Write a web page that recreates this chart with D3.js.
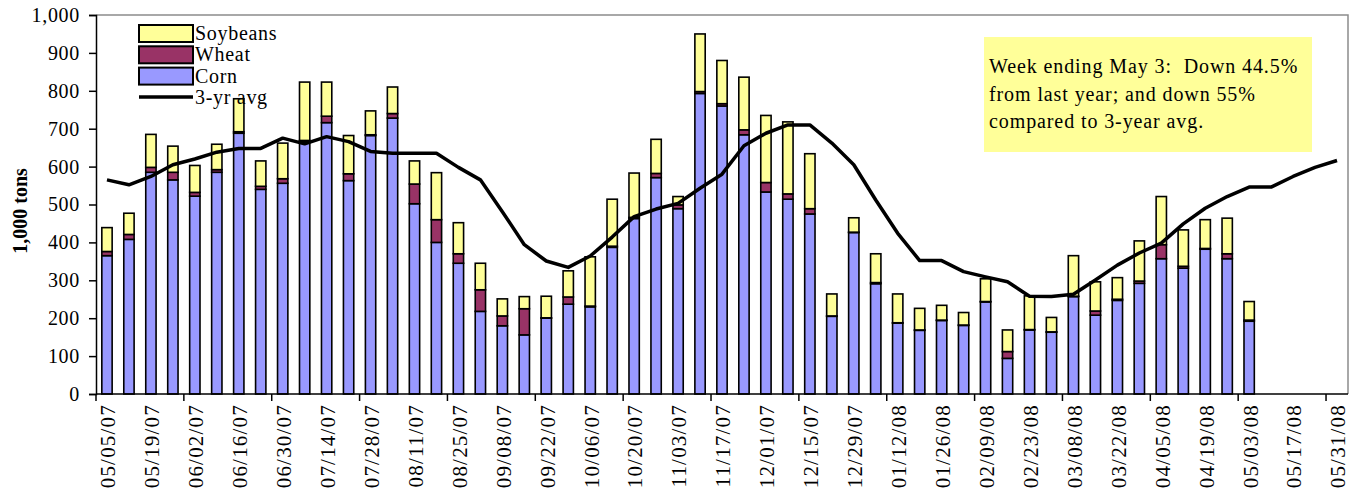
<!DOCTYPE html>
<html>
<head>
<meta charset="utf-8">
<script src="https://cdn.jsdelivr.net/npm/d3@7"></script>
<style>
  html, body { margin: 0; padding: 0; background: #fff; }
  svg { display: block; }
  svg text { font-family: "Liberation Serif", "Times New Roman", serif; }
</style>
</head>
<body>
<svg id="chart" width="1351" height="492"></svg>
<script>
const weeks = ["05/05/07","05/12/07","05/19/07","05/26/07","06/02/07","06/09/07","06/16/07","06/23/07","06/30/07","07/07/07","07/14/07","07/21/07","07/28/07","08/04/07","08/11/07","08/18/07","08/25/07","09/01/07","09/08/07","09/15/07","09/22/07","09/29/07","10/06/07","10/13/07","10/20/07","10/27/07","11/03/07","11/10/07","11/17/07","11/24/07","12/01/07","12/08/07","12/15/07","12/22/07","12/29/07","01/05/08","01/12/08","01/19/08","01/26/08","02/02/08","02/09/08","02/16/08","02/23/08","03/01/08","03/08/08","03/15/08","03/22/08","03/29/08","04/05/08","04/12/08","04/19/08","04/26/08","05/03/08","05/10/08","05/17/08","05/24/08","05/31/08"];

const corn = [365,408,585,565,522,585,688,540,556,667,716,563,682,728,502,400,345,218,180,156,200,237,230,387,463,571,489,793,760,684,533,514,475,205,426,291,187,168,194,181,243,94,169,163,257,208,247,292,357,332,382,357,192,null,null,null,null];
const wheat = [11,13,13,20,10,7,4,8,12,2,17,18,2,12,52,60,25,57,26,69,1,19,2,3,3,11,10,5,6,13,25,14,14,1,1,3,1,1,1,1,1,18,1,1,1,11,3,6,37,5,2,13,3,null,null,null,null];
const soybeans = [63,56,87,69,71,67,87,67,94,154,90,101,63,70,61,124,82,70,45,32,57,69,130,124,117,90,22,152,114,139,177,190,145,58,38,76,76,57,39,33,60,57,89,38,107,77,57,106,127,96,76,94,49,null,null,null,null];
const avg3yr = [565,552,574,605,620,638,648,648,675,660,679,666,640,635,635,635,598,565,481,394,351,334,364,414,468,488,503,543,580,655,688,710,710,662,605,512,424,352,352,323,309,296,258,257,263,301,340,372,398,449,490,521,546,546,574,598,616];

const yTicks = [0,100,200,300,400,500,600,700,800,900,1000];
const seriesNames = ["Corn","Wheat","Soybeans"];
const seriesColors = {Corn:"#9999FF", Wheat:"#993366", Soybeans:"#FFFF99"};
const noteLines = ["Week ending May 3:  Down 44.5%","from last year; and down 55%","compared to 3-year avg."];

const FONT = "'Liberation Serif', 'Times New Roman', serif";
const svg = d3.select("#chart");
const L = 96, R = 1348, T = 15, B = 394;

const x = d3.scaleBand().domain(weeks).range([L, R]).padding(0);
const y = d3.scaleLinear().domain([0, 1000]).range([B, T]);
const bw = x.bandwidth() * 0.47;

// plot border (top/right gray)
svg.append("path")
  .attr("d", `M${L},${T}H${R}V${B}`)
  .attr("fill", "none").attr("stroke", "#8c8c8c").attr("stroke-width", 1.5);

// stacked data
const rows = weeks.map((w, i) => ({week: w, Corn: corn[i], Wheat: wheat[i], Soybeans: soybeans[i]}))
  .filter(d => d.Corn != null);
const stack = d3.stack().keys(seriesNames)(rows);

const barsG = svg.append("g");
stack.forEach(layer => {
  barsG.selectAll(null).data(layer).enter().append("rect")
    .attr("x", d => x(d.data.week) + (x.bandwidth() - bw) / 2)
    .attr("width", bw)
    .attr("y", d => y(d[1]))
    .attr("height", d => Math.max(0, y(d[0]) - y(d[1])))
    .attr("fill", seriesColors[layer.key])
    .attr("stroke", "#000").attr("stroke-width", 1.6);
});

// 3-yr avg line
const line = d3.line()
  .x((d, i) => x(weeks[i]) + x.bandwidth() / 2)
  .y(d => y(d));
svg.append("path").datum(avg3yr)
  .attr("d", line).attr("fill", "none")
  .attr("stroke", "#000").attr("stroke-width", 3.5).attr("stroke-linejoin", "round");

// y axis
const yAxis = d3.axisLeft(y).tickValues(yTicks).tickFormat(d3.format(",")).tickSize(7).tickPadding(9);
const yg = svg.append("g").attr("transform", `translate(${L},0)`).call(yAxis);
yg.attr("font-family", FONT).attr("font-size", 20);
yg.select(".domain").attr("stroke", "#000").attr("stroke-width", 1.5);
yg.selectAll(".tick line").attr("stroke", "#000").attr("stroke-width", 1.5);
yg.selectAll(".tick text").attr("font-size", 20).attr("fill", "#000")
  .attr("font-family", FONT).style("letter-spacing", "0.7px");

// x axis
const xg = svg.append("g").attr("transform", `translate(0,${B})`);
xg.append("line").attr("x1", L).attr("x2", R).attr("stroke", "#000").attr("stroke-width", 1.5);
xg.selectAll(".xt").data(weeks.filter((w, i) => i % 4 === 0)).enter().append("line")
  .attr("x1", d => x(d)).attr("x2", d => x(d)).attr("y1", 0).attr("y2", 7)
  .attr("stroke", "#000").attr("stroke-width", 1.5);
xg.selectAll(".xl").data(weeks.filter((w, i) => i % 2 === 0)).enter().append("text")
  .attr("transform", d => `translate(${x(d) + x.bandwidth() / 2 + 1},${10}) rotate(-90)`)
  .attr("text-anchor", "end").attr("dy", "0.35em")
  .attr("font-family", FONT).attr("font-size", 21).style("letter-spacing", "1.2px")
  .text(d => d);

// y title
svg.append("text")
  .attr("transform", `translate(20,211) rotate(-90)`)
  .attr("text-anchor", "middle").attr("dy", "0.35em")
  .attr("font-family", FONT).attr("font-size", 20).attr("font-weight", "bold")
  .text("1,000 tons");

// legend
const legendItems = ["Soybeans", "Wheat", "Corn"];
const lg = svg.append("g");
legendItems.forEach((k, i) => {
  const yy = 25 + i * 21.3;
  lg.append("rect").attr("x", 139).attr("y", yy).attr("width", 54).attr("height", 17)
    .attr("fill", seriesColors[k]).attr("stroke", "#000").attr("stroke-width", 2);
  lg.append("text").attr("x", 195).attr("y", yy + 15).attr("font-size", 20)
    .attr("font-family", FONT).style("letter-spacing", "0.7px").text(k);
});
lg.append("line").attr("x1", 139).attr("x2", 193).attr("y1", 97).attr("y2", 97)
  .attr("stroke", "#000").attr("stroke-width", 3.5);
lg.append("text").attr("x", 195).attr("y", 104).attr("font-size", 20)
  .attr("font-family", FONT).style("letter-spacing", "0.7px").text("3-yr avg");

// annotation box
svg.append("rect").attr("x", 984).attr("y", 37).attr("width", 328).attr("height", 115)
  .attr("fill", "#FFFF99");
noteLines.forEach((t, i) => {
  svg.append("text").attr("x", 989).attr("y", 73 + i * 27.6)
    .attr("font-family", FONT).attr("font-size", 20).style("letter-spacing", "0.9px")
    .style("white-space", "pre").text(t);
});
</script>
</body>
</html>
